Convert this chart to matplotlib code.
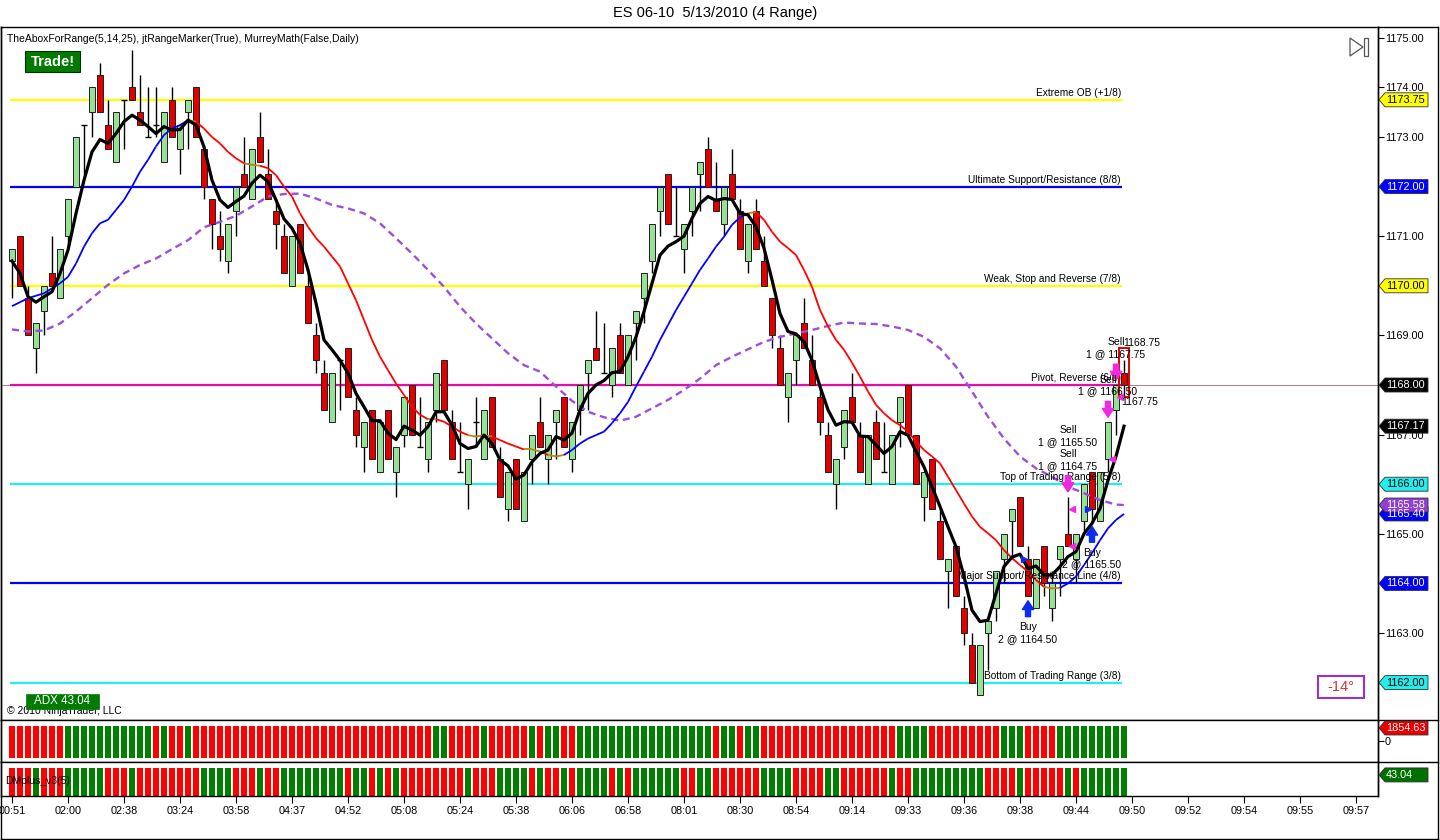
import numpy as np
import matplotlib
matplotlib.use("Agg")
import matplotlib.pyplot as plt
from matplotlib.collections import LineCollection
from matplotlib.patches import Rectangle, Polygon
from matplotlib.lines import Line2D

plt.rcParams['font.family'] = ['Liberation Sans', 'DejaVu Sans']

# ---------------- data ----------------
opens = [1170.5, 1171.0, 1169.75, 1168.75, 1169.5, 1170.25, 1169.75, 1171.0, 1172.0, 1173.25,
         1173.5, 1174.25, 1173.25, 1172.5, 1173.75, 1174.0, 1173.5, 1173.0, 1173.25, 1172.5,
         1173.75, 1172.75, 1173.5, 1174.0, 1172.75, 1171.75, 1171.0, 1170.5, 1171.5, 1172.25,
         1171.75, 1173.0, 1172.25, 1171.5, 1171.0, 1170.0, 1171.25, 1170.0, 1169.0, 1168.25,
         1167.25, 1168.5, 1168.75, 1167.5, 1166.75, 1167.5, 1166.25, 1167.5, 1166.25, 1167.0,
         1168.0, 1166.75, 1166.5, 1167.5, 1168.5, 1167.25, 1166.25, 1166.0, 1167.25, 1166.5,
         1167.75, 1166.5, 1165.5, 1166.5, 1165.25, 1166.5, 1167.25, 1166.5, 1167.25, 1167.75,
         1166.5, 1167.5, 1168.25, 1168.75, 1168.25, 1168.0, 1169.0, 1168.0, 1169.25, 1169.75,
         1170.5, 1171.5, 1172.25, 1171.0, 1170.75, 1171.5, 1172.25, 1172.75, 1171.75, 1171.25,
         1172.25, 1171.5, 1170.5, 1171.5, 1170.5, 1169.75, 1168.75, 1167.75, 1168.5, 1169.25,
         1168.5, 1167.75, 1167.0, 1166.0, 1166.75, 1167.75, 1167.0, 1166.0, 1167.25, 1166.25,
         1166.0, 1167.25, 1168.0, 1167.0, 1165.75, 1166.5, 1165.25, 1164.25, 1164.75, 1163.5,
         1162.75, 1161.75, 1163.0, 1163.5, 1164.5, 1165.25, 1165.75, 1164.5, 1163.5, 1164.75,
         1163.5, 1164.5, 1165.0, 1164.5, 1165.25, 1166.25, 1165.25, 1166.5, 1167.5, 1168.25]
highs = [1170.75, 1171.0, 1170.0, 1169.25, 1170.0, 1171.0, 1170.75, 1171.75, 1173.0, 1173.25,
         1174.0, 1174.5, 1173.75, 1173.5, 1173.75, 1174.75, 1174.25, 1174.0, 1174.0, 1173.5,
         1174.0, 1173.25, 1173.75, 1174.0, 1172.75, 1171.75, 1171.5, 1171.25, 1172.0, 1173.0,
         1172.75, 1173.5, 1172.75, 1171.75, 1171.25, 1171.0, 1171.25, 1170.25, 1169.25, 1168.5,
         1168.25, 1168.5, 1168.75, 1167.75, 1167.25, 1167.5, 1167.25, 1167.5, 1166.75, 1167.75,
         1168.0, 1167.75, 1167.25, 1168.25, 1168.5, 1167.5, 1167.25, 1166.5, 1167.75, 1167.5,
         1167.75, 1166.75, 1166.25, 1166.5, 1166.25, 1167.0, 1167.75, 1167.0, 1167.5, 1167.75,
         1167.25, 1168.0, 1168.5, 1169.5, 1169.25, 1168.75, 1169.25, 1169.0, 1169.5, 1170.25,
         1171.25, 1172.0, 1172.25, 1172.0, 1171.25, 1172.0, 1172.5, 1173.0, 1172.5, 1172.0,
         1172.75, 1171.75, 1171.25, 1171.75, 1171.0, 1169.75, 1169.0, 1168.25, 1169.0, 1169.75,
         1169.0, 1168.0, 1167.25, 1166.5, 1167.5, 1168.25, 1167.25, 1167.0, 1167.5, 1167.25,
         1167.0, 1167.75, 1168.0, 1167.0, 1166.25, 1166.5, 1165.5, 1164.5, 1164.75, 1163.75,
         1163.0, 1162.75, 1163.25, 1164.25, 1165.0, 1165.5, 1165.75, 1164.75, 1164.5, 1164.75,
         1164.25, 1164.75, 1165.75, 1165.0, 1166.0, 1166.25, 1166.25, 1167.25, 1168.0, 1168.5]
lows = [1169.75, 1170.0, 1169.0, 1168.25, 1169.0, 1170.0, 1169.75, 1170.75, 1172.0, 1172.25,
        1173.0, 1173.5, 1172.75, 1172.5, 1172.75, 1173.75, 1173.25, 1173.0, 1173.0, 1172.5,
        1173.0, 1172.25, 1172.75, 1173.0, 1171.75, 1170.75, 1170.5, 1170.25, 1171.0, 1172.0,
        1171.75, 1172.5, 1171.75, 1170.75, 1170.25, 1170.0, 1170.25, 1169.25, 1168.25, 1167.5,
        1167.25, 1167.5, 1167.75, 1166.75, 1166.25, 1166.5, 1166.25, 1166.5, 1165.75, 1166.75,
        1167.0, 1166.75, 1166.25, 1167.25, 1167.5, 1166.5, 1166.25, 1165.5, 1166.75, 1166.5,
        1166.75, 1165.75, 1165.25, 1165.5, 1165.25, 1166.0, 1166.75, 1166.0, 1166.5, 1166.75,
        1166.25, 1167.0, 1167.5, 1168.5, 1168.25, 1167.75, 1168.25, 1168.0, 1168.5, 1169.25,
        1170.25, 1171.0, 1171.25, 1171.0, 1170.25, 1171.0, 1171.5, 1172.0, 1171.5, 1171.0,
        1171.75, 1170.75, 1170.25, 1170.75, 1170.0, 1168.75, 1168.0, 1167.25, 1168.0, 1168.75,
        1168.0, 1167.0, 1166.25, 1165.5, 1166.5, 1167.25, 1166.25, 1166.0, 1166.5, 1166.25,
        1166.0, 1166.75, 1167.0, 1166.0, 1165.25, 1165.5, 1164.5, 1163.5, 1163.75, 1162.75,
        1162.0, 1161.75, 1162.25, 1163.25, 1164.0, 1164.5, 1164.75, 1163.75, 1163.5, 1163.75,
        1163.25, 1163.75, 1164.75, 1164.0, 1165.0, 1165.25, 1165.25, 1166.25, 1167.0, 1167.75]
closes = [1170.75, 1170.0, 1169.0, 1169.25, 1170.0, 1170.0, 1170.75, 1171.75, 1173.0, 1173.25,
          1174.0, 1173.5, 1172.75, 1173.5, 1173.75, 1173.75, 1173.25, 1173.0, 1173.25, 1173.5,
          1173.0, 1173.25, 1173.75, 1173.0, 1172.0, 1171.25, 1170.75, 1171.25, 1172.0, 1172.0,
          1172.75, 1172.5, 1171.75, 1171.25, 1170.25, 1171.0, 1170.25, 1169.25, 1168.5, 1167.5,
          1168.25, 1168.5, 1167.75, 1167.0, 1167.25, 1166.5, 1167.25, 1166.5, 1166.75, 1167.75,
          1167.0, 1166.75, 1167.25, 1168.25, 1167.5, 1166.5, 1166.25, 1166.5, 1167.25, 1167.5,
          1166.75, 1165.75, 1166.25, 1165.5, 1166.25, 1167.0, 1166.75, 1167.0, 1167.5, 1166.75,
          1167.25, 1168.0, 1168.5, 1168.5, 1168.25, 1168.75, 1168.25, 1169.0, 1169.5, 1170.25,
          1171.25, 1172.0, 1171.25, 1171.0, 1171.25, 1172.0, 1172.5, 1172.0, 1171.5, 1172.0,
          1171.75, 1170.75, 1171.25, 1170.75, 1170.0, 1169.0, 1168.0, 1168.25, 1169.0, 1168.75,
          1168.0, 1167.25, 1166.25, 1166.5, 1167.5, 1167.25, 1166.25, 1167.0, 1166.5, 1166.25,
          1167.0, 1167.75, 1167.0, 1166.0, 1166.25, 1165.5, 1164.5, 1164.5, 1163.75, 1163.0,
          1162.0, 1162.75, 1163.25, 1164.25, 1165.0, 1165.5, 1164.75, 1163.75, 1164.5, 1164.0,
          1164.0, 1164.75, 1164.75, 1165.0, 1166.0, 1165.5, 1166.25, 1167.25, 1168.0, 1168.0]

# fast (black), medium (blue/red) moving averages, one value per bar
fast_ma = [1170.50, 1170.25, 1169.78, 1169.67, 1169.78, 1169.88, 1170.25, 1170.72, 1171.46, 1172.13,
           1172.70, 1172.95, 1172.87, 1173.07, 1173.31, 1173.44, 1173.34, 1173.21, 1173.07, 1173.21,
           1173.14, 1173.15, 1173.34, 1173.24, 1172.80, 1172.13, 1171.73, 1171.58, 1171.70, 1171.81,
           1172.07, 1172.23, 1172.10, 1171.73, 1171.35, 1171.16, 1170.86, 1170.32, 1169.65, 1168.91,
           1168.71, 1168.50, 1168.24, 1167.83, 1167.56, 1167.28, 1167.28, 1167.03, 1166.90, 1167.17,
           1167.09, 1166.99, 1167.16, 1167.46, 1167.46, 1167.19, 1166.82, 1166.72, 1166.76, 1166.99,
           1166.82, 1166.49, 1166.37, 1166.10, 1166.19, 1166.45, 1166.62, 1166.69, 1166.96, 1166.89,
           1167.03, 1167.50, 1167.83, 1168.00, 1168.09, 1168.25, 1168.27, 1168.57, 1168.97, 1169.48,
           1170.05, 1170.62, 1170.80, 1170.89, 1171.00, 1171.36, 1171.66, 1171.80, 1171.72, 1171.76,
           1171.74, 1171.46, 1171.43, 1171.19, 1170.76, 1170.12, 1169.44, 1169.08, 1169.03, 1168.87,
           1168.50, 1167.97, 1167.50, 1167.19, 1167.26, 1167.25, 1166.97, 1166.96, 1166.79, 1166.62,
           1166.76, 1167.06, 1166.99, 1166.66, 1166.35, 1165.95, 1165.55, 1165.14, 1164.74, 1164.14,
           1163.46, 1163.23, 1163.26, 1163.80, 1164.34, 1164.53, 1164.59, 1164.30, 1164.35, 1164.17,
           1164.17, 1164.34, 1164.54, 1164.64, 1165.00, 1165.21, 1165.51, 1166.08, 1166.56, 1167.17]
mid_ma = [1169.59, 1169.67, 1169.75, 1169.80, 1169.85, 1169.95, 1170.05, 1170.18, 1170.45, 1170.79,
          1171.06, 1171.26, 1171.33, 1171.53, 1171.73, 1172.00, 1172.30, 1172.54, 1172.81, 1173.04,
          1173.17, 1173.24, 1173.34, 1173.31, 1173.17, 1173.00, 1172.87, 1172.70, 1172.57, 1172.47,
          1172.44, 1172.42, 1172.37, 1172.23, 1172.00, 1171.80, 1171.46, 1171.19, 1170.96, 1170.79,
          1170.59, 1170.39, 1170.05, 1169.71, 1169.31, 1168.91, 1168.57, 1168.30, 1168.03, 1167.80,
          1167.56, 1167.40, 1167.31, 1167.31, 1167.26, 1167.16, 1167.06, 1166.99, 1166.96, 1166.99,
          1166.96, 1166.89, 1166.82, 1166.76, 1166.70, 1166.70, 1166.66, 1166.59, 1166.56, 1166.59,
          1166.69, 1166.82, 1166.92, 1166.99, 1167.06, 1167.23, 1167.43, 1167.66, 1167.97, 1168.27,
          1168.57, 1168.91, 1169.21, 1169.51, 1169.78, 1170.05, 1170.32, 1170.55, 1170.79, 1170.99,
          1171.23, 1171.38, 1171.46, 1171.49, 1171.33, 1171.09, 1170.89, 1170.76, 1170.62, 1170.32,
          1169.98, 1169.51, 1169.18, 1168.91, 1168.71, 1168.45, 1168.17, 1167.87, 1167.60, 1167.43,
          1167.29, 1167.19, 1167.06, 1166.86, 1166.69, 1166.56, 1166.42, 1166.15, 1165.88, 1165.61,
          1165.35, 1165.14, 1165.01, 1164.87, 1164.67, 1164.51, 1164.37, 1164.24, 1164.07, 1163.93,
          1163.90, 1163.91, 1164.00, 1164.14, 1164.37, 1164.61, 1164.87, 1165.11, 1165.28, 1165.40]
# slow (purple dashed) moving average, read every second bar
slow_bars = list(range(0, 140, 2)) + [139]
slow_ma = [1169.12, 1169.08, 1169.10, 1169.24, 1169.48, 1169.75, 1170.02, 1170.25, 1170.42, 1170.55,
           1170.74, 1170.92, 1171.18, 1171.29, 1171.41, 1171.60, 1171.80, 1171.85, 1171.86, 1171.76,
           1171.63, 1171.56, 1171.46, 1171.26, 1170.96, 1170.65, 1170.32, 1169.98, 1169.58, 1169.24,
           1168.94, 1168.64, 1168.40, 1168.27, 1167.97, 1167.68, 1167.46, 1167.35, 1167.28, 1167.36,
           1167.53, 1167.70, 1167.90, 1168.13, 1168.40, 1168.57, 1168.72, 1168.87, 1168.97, 1169.04,
           1169.11, 1169.19, 1169.26, 1169.24, 1169.23, 1169.18, 1169.11, 1168.97, 1168.74, 1168.37,
           1167.87, 1167.36, 1166.92, 1166.56, 1166.32, 1166.15, 1165.95, 1165.82, 1165.68, 1165.59,
           1165.58]

# Murrey math levels
murrey_levels = [1173.75, 1172.00, 1170.00, 1168.00, 1166.00, 1164.00, 1162.00]
murrey_names = ['Extreme OB (+1/8)', 'Ultimate Support/Resistance (8/8)', 'Weak, Stop and Reverse (7/8)',
                'Pivot, Reverse (6/8)', 'Top of Trading Range (5/8)', 'Major Support/Resistance Line (4/8)',
                'Bottom of Trading Range (3/8)']
murrey_colors = ['#FFFF00', '#0000FF', '#FFFF00', '#E010A8', '#22EEEE', '#0000FF', '#22EEEE']
murrey_tag_fg = ['black', 'white', 'black', 'white', 'black', 'white', 'black']

# trades
trade_bars = [127, 132, 132, 135, 137, 138]
trade_sides = ['Buy', 'Sell', 'Sell', 'Buy', 'Sell', 'Sell']
trade_qty = [2, 1, 1, 2, 1, 1]
trade_prices = [1164.50, 1164.75, 1165.50, 1165.50, 1166.50, 1167.75]

range_top, range_bottom = 1168.75, 1167.75

# lower panels: colour runs
adx_runs = [('R', 7), ('G', 11), ('R', 1), ('G', 1), ('R', 2), ('G', 1), ('R', 30), ('G', 2), ('R', 4),
            ('G', 1), ('R', 5), ('G', 1), ('R', 1), ('G', 2), ('R', 2), ('G', 17), ('R', 1), ('G', 2),
            ('R', 1), ('G', 2), ('R', 17), ('G', 4), ('R', 9), ('G', 3), ('R', 4), ('G', 9)]
dm_runs = [('R', 3), ('G', 1), ('R', 3), ('G', 5), ('R', 3), ('G', 1), ('R', 8), ('G', 4), ('R', 3),
           ('G', 1), ('R', 2), ('G', 8), ('R', 1), ('G', 2), ('R', 1), ('G', 1), ('R', 1), ('G', 1),
           ('R', 8), ('G', 1), ('R', 3), ('G', 4), ('R', 1), ('G', 1), ('R', 2), ('G', 1), ('R', 1),
           ('G', 4), ('R', 1), ('G', 1), ('R', 1), ('G', 6), ('R', 2), ('G', 2), ('R', 6), ('G', 4),
           ('R', 4), ('G', 2), ('R', 6), ('G', 1), ('R', 2), ('G', 9), ('R', 4), ('G', 1), ('R', 5),
           ('G', 1), ('R', 1), ('G', 6)]
adx_value = 1854.63
dm_value = 43.04
adx_box_value = 43.04
slope_value = -14

time_labels = ['00:51', '02:00', '02:38', '03:24', '03:58', '04:37', '04:52', '05:08', '05:24', '05:38',
               '06:06', '06:58', '08:01', '08:30', '08:54', '09:14', '09:33', '09:36', '09:38', '09:44',
               '09:50', '09:52', '09:54', '09:55', '09:57']
label_step = 7

# ---------------- figure ----------------
W, H = 1440, 840
fig = plt.figure(figsize=(W / 100, H / 100), dpi=100)
fig.patch.set_facecolor('white')


def fp(x, y):
    return (x / W, 1 - y / H)


o = np.array(opens); hi = np.array(highs); lo = np.array(lows); c = np.array(closes)
n = len(c)
x = np.arange(n)
XL = (-1.375, 170.75)

ax = fig.add_axes([1 / W, 1 - 720 / H, 1377 / W, 693 / H])
ax2 = fig.add_axes([1 / W, 1 - 762 / H, 1377 / W, 42 / H])
ax3 = fig.add_axes([1 / W, 1 - 796 / H, 1377 / W, 34 / H])
for a in (ax, ax2, ax3):
    a.set_xlim(*XL)
    for s in a.spines.values():
        s.set_linewidth(1.0)
        s.set_color('black')
    a.tick_params(axis='x', bottom=False, labelbottom=False)

ax.set_ylim(1161.246, 1175.218)

# Murrey lines
x0, x1 = -0.25, n - 1.25
ax.axhline(c[-1], color='#a88a8a', lw=0.8, zorder=1)
for lv, nm, col in zip(murrey_levels, murrey_names, murrey_colors):
    ax.hlines(lv, x0, x1, color=col, lw=1.6, zorder=2)
    ax.text(x1 - 0.15, lv + 0.04, nm, ha='right', va='bottom', fontsize=7.3, color='black', zorder=9)

# candles
UP, DN = '#98E098', '#E00000'
ax.vlines(x, lo, hi, color='black', lw=1.0, zorder=3)
up = c > o; dn = c < o; dj = c == o
ax.bar(x[up], (c - o)[up], bottom=o[up], width=0.72, color=UP, edgecolor='#202020', lw=0.7, zorder=4)
ax.bar(x[dn], (o - c)[dn], bottom=c[dn], width=0.72, color=DN, edgecolor='#202020', lw=0.7, zorder=4)
ax.hlines(c[dj], x[dj] - 0.36, x[dj] + 0.36, color='black', lw=1.0, zorder=4)

# slow MA
ax.plot(slow_bars, slow_ma, color='#9A50DA', lw=1.7, ls=(0, (3, 2)), zorder=5)
# medium MA coloured by slope
m = np.array(mid_ma)
segs = [[(i, m[i]), (i + 1, m[i + 1])] for i in range(n - 1)]
d = np.diff(m)
cols = ['#0000FF' if v > 0.045 else ('#FF0000' if v < -0.045 else '#B8860B') for v in d]
ax.add_collection(LineCollection(segs, colors=cols, linewidths=1.3, zorder=6))
# fast MA
ax.plot(x, fast_ma, color='black', lw=2.3, zorder=7, solid_joinstyle='round')

# trades
MAG, BLU = '#F028E0', '#0A2CF0'
stack = {}
for b, side, q, p in zip(trade_bars, trade_sides, trade_qty, trade_prices):
    k = stack.get((b, side), 0)
    stack[(b, side)] = k + 1
    if side == 'Sell':
        base = hi[b]
        ax.annotate('', xy=(b, base + 0.1), xytext=(b, base + 0.42),
                    arrowprops=dict(arrowstyle='simple,head_length=0.7,head_width=0.9,tail_width=0.4',
                                    fc=MAG, ec=MAG, shrinkA=0, shrinkB=0, mutation_scale=9), zorder=10)
        ax.text(b, base + 0.62 + 0.48 * k, '%d @ %.2f' % (q, p), ha='center', va='center', fontsize=7.5, zorder=11)
        ax.text(b, base + 0.86 + 0.48 * k, 'Sell', ha='center', va='center', fontsize=7.5, zorder=11)
        ax.plot(b + 0.45, p, marker='<', ms=4.5, color=MAG, zorder=10)
    else:
        base = lo[b]
        ax.annotate('', xy=(b, base - 0.1), xytext=(b, base - 0.42),
                    arrowprops=dict(arrowstyle='simple,head_length=0.7,head_width=0.9,tail_width=0.4',
                                    fc=BLU, ec=BLU, shrinkA=0, shrinkB=0, mutation_scale=9), zorder=10)
        ax.text(b, base - 0.63, side, ha='center', va='center', fontsize=7.5, zorder=11)
        ax.text(b, base - 0.87, '%d @ %.2f' % (q, p), ha='center', va='center', fontsize=7.5, zorder=11)
        ax.plot(b - 0.45, p, marker='>', ms=4.5, color=BLU, zorder=10)

# range marker on the current bar
ax.add_patch(Rectangle((n - 1 - 0.62, range_bottom), 1.24, range_top - range_bottom,
                       fill=False, ec='#E00000', lw=1.4, zorder=9))
ax.text(n - 1 - 0.05, range_top, '%.2f' % range_top, ha='left', va='bottom', fontsize=7.5, zorder=11)
ax.text(n - 1 - 0.3, range_bottom, '%.2f' % range_bottom, ha='left', va='top', fontsize=7.5, zorder=11)

# right price axis
ax.yaxis.tick_right()
yt = np.arange(1162, 1176, 1.0)
ax.set_yticks(yt)
ax.set_yticklabels(['%.2f' % v for v in yt])
ax.tick_params(axis='y', direction='out', length=4, width=0.8, labelsize=7.8, pad=1)

# lower panels
def expand(runs):
    out = []
    for col, k in runs:
        out += [col] * k
    return out

adx_cols = expand(adx_runs)
dm_cols = expand(dm_runs)
cmap = {'R': '#FF0000', 'G': '#008000'}
ax2.set_ylim(0, 1)
ax2.bar(x, 0.762, bottom=0.102, width=0.78, color=[cmap[v] for v in adx_cols], lw=0)
ax2.yaxis.tick_right()
ax2.set_yticks([0.5])
ax2.set_yticklabels(['0'])
ax2.tick_params(axis='y', direction='out', length=4, width=0.8, labelsize=7.8, pad=1)
ax3.set_ylim(0, 1)
ax3.bar(x, 0.83, bottom=0, width=0.78, color=[cmap[v] for v in dm_cols], lw=0)
ax3.set_yticks([])
ax3.text(-0.9, 0.45, 'DMplus_v3(5)', transform=ax3.transData, fontsize=7.5, va='center', ha='left', zorder=5)
tb = list(range(0, label_step * len(time_labels), label_step))
ax3.set_xticks(tb)
ax3.set_xticklabels(time_labels)
ax3.tick_params(axis='x', bottom=True, labelbottom=True, direction='out', length=5, width=0.8,
                labelsize=7.8, pad=2)

# ---------------- tags on the right axis ----------------
def tag(axis, yval, text, bg, fg, frac=False):
    tr = axis.transAxes if frac else axis.transData
    yd = tr.transform((0, yval))[1]
    y = H - yd
    pts = [fp(1379, y), fp(1385, y - 7), fp(1428, y - 7), fp(1428, y + 7), fp(1385, y + 7)]
    fig.add_artist(Polygon(pts, closed=True, transform=fig.transFigure, fc=bg, ec='#303030', lw=0.6, zorder=20))
    fig.text(1386 / W, 1 - y / H, text, color=fg, fontsize=7.8, va='center', ha='left', zorder=21)

for lv, col, fg in zip(murrey_levels, murrey_colors, murrey_tag_fg):
    if col == '#E010A8':
        continue
    tag(ax, lv, '%.2f' % lv, col, fg)
tag(ax, c[-1], '%.2f' % c[-1], 'black', 'white')
tag(ax, fast_ma[-1], '%.2f' % fast_ma[-1], 'black', 'white')
tag(ax, mid_ma[-1], '%.2f' % mid_ma[-1], '#0000FF', 'white')
tag(ax, slow_ma[-1], '%.2f' % slow_ma[-1], '#9040D0', 'white')
tag(ax2, 0.81, '%.2f' % adx_value, '#E80000', 'white', frac=True)
tag(ax3, 0.62, '%.2f' % dm_value, '#007000', 'white', frac=True)

# ---------------- texts and frame ----------------
fig.text(*fp(715, 13), 'ES 06-10  5/13/2010 (4 Range)', ha='center', va='center', fontsize=10.5)
fig.text(*fp(7, 39), 'TheAboxForRange(5,14,25), jtRangeMarker(True), MurreyMath(False,Daily)',
         ha='left', va='center', fontsize=7.5, zorder=22)
fig.add_artist(Rectangle(fp(25, 72), 55 / W, 21 / H, transform=fig.transFigure, fc='#007A00',
                         ec='#003300', lw=0.8, zorder=22))
fig.text(*fp(52.5, 61.5), 'Trade!', ha='center', va='center', fontsize=10.5, color='white', weight='bold',
         zorder=23)
fig.text(*fp(7, 711), '\u00a9 2010 NinjaTrader, LLC', ha='left', va='center', fontsize=7.5, zorder=21)
fig.add_artist(Rectangle(fp(26, 709), 73 / W, 15 / H, transform=fig.transFigure, fc='#007A00',
                         ec='#007A00', lw=0.5, zorder=22))
fig.text(*fp(62.5, 701.5), 'ADX %.2f' % adx_box_value, ha='center', va='center', fontsize=8.4, color='white',
         zorder=23)

# slope box
fig.add_artist(Rectangle(fp(1318, 698), 46 / W, 22 / H, transform=fig.transFigure, fc='white',
                         ec='#9932CC', lw=1.5, zorder=22))
fig.text(*fp(1341, 687), '%d\u00b0' % slope_value, ha='center', va='center', fontsize=10.5, color='#C83838',
         zorder=23)

# play/end icon
fig.add_artist(Polygon([fp(1350, 38), fp(1350, 56), fp(1363, 47)], closed=True, transform=fig.transFigure,
                       fill=False, ec='#555555', lw=0.9, zorder=22))
fig.add_artist(Rectangle(fp(1364, 56), 4 / W, 18 / H, transform=fig.transFigure, fill=False,
                         ec='#555555', lw=0.9, zorder=22))

# frame lines
for (xa, ya, xb, yb) in [(1378, 27, 1438, 27), (1378, 720, 1438, 720), (1378, 762, 1438, 762),
                         (1438, 27, 1438, 839), (0.5, 27, 0.5, 839), (0.5, 839, 1438, 839),
                         (1378, 27, 1378, 796)]:
    fig.add_artist(Line2D([xa / W, xb / W], [1 - ya / H, 1 - yb / H], transform=fig.transFigure,
                          color='black', lw=1.0, zorder=19))

fig.savefig('out.png', dpi=100, facecolor='white')
